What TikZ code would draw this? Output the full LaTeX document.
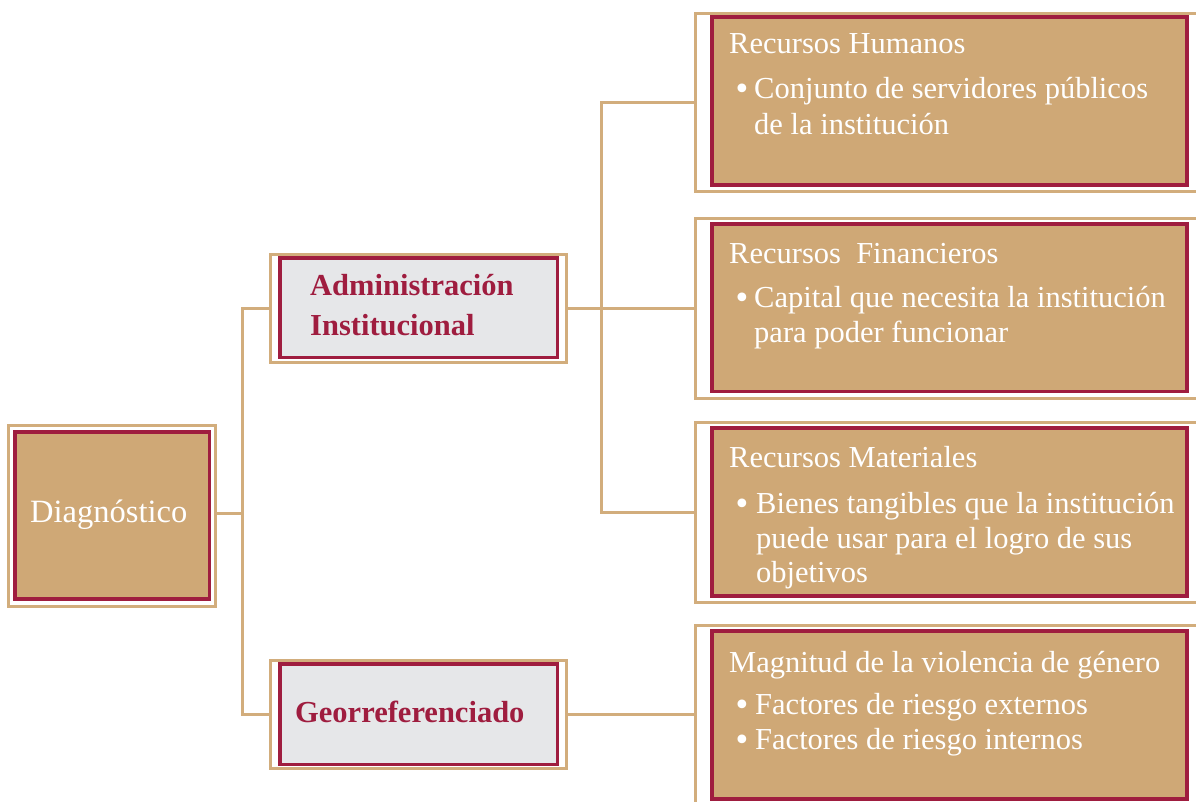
\documentclass[tikz,border=0pt]{standalone}
\usepackage{fontspec}
\setmainfont{Liberation Serif}
\newfontfamily\bulfont{DejaVu Sans}
\usetikzlibrary{fit}
\definecolor{tanfill}{HTML}{CFA876}
\definecolor{tanline}{HTML}{D2AD7C}
\definecolor{crim}{HTML}{9F1D3F}
\definecolor{greyf}{HTML}{E6E7E9}
\newcommand\bul[1]{\makebox[#1][l]{\raisebox{-1pt}{\fontsize{30}{30}\bulfont •}}}
\begin{document}
\begin{tikzpicture}[x=1pt,y=-1pt,
  frame/.style={draw=tanline, line width=3pt, fill=white, rectangle, inner sep=0pt},
  goldbox/.style={draw=crim, line width=3.5pt, fill=tanfill, rectangle, inner sep=0pt},
  greybox/.style={draw=crim, line width=3.5pt, fill=greyf, rectangle, inner sep=0pt},
  link/.style={draw=tanline, line width=3pt, line join=miter},
  wt/.style={text=white, font=\fontsize{30.5}{36}\selectfont, inner sep=0pt, anchor=base west},
  rt/.style={text=crim, font=\fontsize{30.5}{36}\selectfont\bfseries, inner sep=0pt, anchor=base west},
]
\useasboundingbox (0,0) rectangle (1196,801);
\clip (0,0) rectangle (1196,801);

% outer frames
\node[frame, fit={(8.5,425.5) (215,606)}] (diagO) {};
\node[frame, fit={(270,254) (566,362)}] (admO) {};
\node[frame, fit={(270,660) (566,768)}] (geoO) {};
\node[frame, fit={(695.5,13) (1215,191)}] (rhO) {};
\node[frame, fit={(695.5,218) (1215,398)}] (rfO) {};
\node[frame, fit={(695.5,422) (1215,602)}] (rmO) {};
\node[frame, fit={(695.5,625) (1215,803)}] (mgO) {};

% inner boxes
\node[goldbox, fit={(15,432) (209.5,599)}] (diagI) {};
\node[greybox, fit={(280,258) (557.5,357.5)}] (admI) {};
\node[greybox, fit={(280,664) (557.5,764.5)}] (geoI) {};
\node[goldbox, fit={(712,17) (1187,185)}] (rhI) {};
\node[goldbox, fit={(712,224) (1187,391.5)}] (rfI) {};
\node[goldbox, fit={(712,428) (1187,596)}] (rmI) {};
\node[goldbox, fit={(712,631) (1187,799)}] (mgI) {};

% texts
\node[wt, font=\fontsize{32.5}{36}\selectfont] (tdiag) at (30,522) {Diagnóstico};
\node[rt] (tadm1) at (310,295) {Administración};
\node[rt] (tadm2) at (310,335) {Institucional};
\node[rt] (tgeo) at (295,722) {Georreferenciado};

\node[wt] (trh) at (729,53) {Recursos Humanos};
\node[wt] (trh1) at (733,98.5) {\bul{21pt}Conjunto de servidores públicos};
\node[wt] (trh2) at (754,134) {de la institución};

\node[wt] (trf) at (729,263) {Recursos~ Financieros};
\node[wt] (trf1) at (733,307) {\bul{21pt}Capital que necesita la institución};
\node[wt] (trf2) at (754,342) {para poder funcionar};

\node[wt] (trm) at (729,467) {Recursos Materiales};
\node[wt] (trm1) at (733,513) {\bul{23pt}Bienes tangibles que la institución};
\node[wt] (trm2) at (756,548) {puede usar para el logro de sus};
\node[wt] (trm3) at (756,582) {objetivos};

\node[wt] (tmg) at (729,672) {Magnitud de la violencia de género};
\node[wt] (tmg1) at (733,714) {\bul{22pt}Factores de riesgo externos};
\node[wt] (tmg2) at (733,749) {\bul{22pt}Factores de riesgo internos};

% connectors
\coordinate (j1) at (242,513);
\coordinate (j2) at (601.5,308);
\draw[link] (diagO.east |- j1) -- (j1);
\draw[link] (admO.west) -- (admO.west -| j1) -- (geoO.west -| j1) -- (geoO.west);
\draw[link] (admO.east) -- (rfO.west);
\draw[link] (rhO.west) -- (rhO.west -| j2) -- (rmO.west -| j2) -- (rmO.west);
\draw[link] (geoO.east) -- (mgO.west);
\end{tikzpicture}
\end{document}
